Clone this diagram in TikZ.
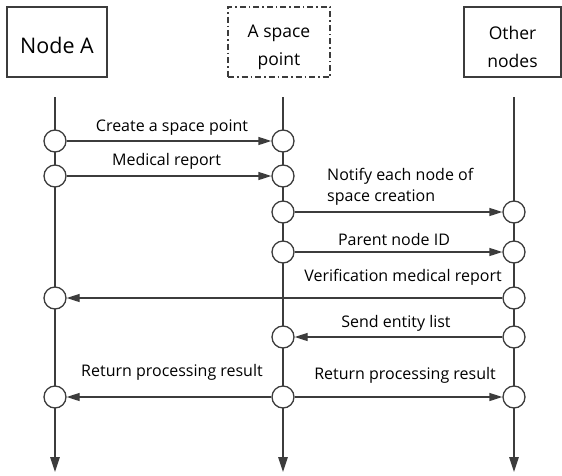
\documentclass[tikz,border=0pt]{standalone}
\usepackage{fontspec}
\setmainfont{Open Sans}
\usetikzlibrary{arrows.meta}
\definecolor{ln}{HTML}{3C3C3C}
\begin{document}
\begin{tikzpicture}[x=1pt,y=-1pt,
  box/.style={draw=ln,line width=1.1pt,minimum width=100pt,minimum height=70pt,inner sep=0pt},
  dbox/.style={box,dash pattern=on 6pt off 3pt on 1.5pt off 3pt},
  boxtxt/.style={inner sep=0pt,align=center,font=\fontsize{17.5}{21}\selectfont},
  lbl/.style={font=\fontsize{16}{21}\selectfont,text=black,inner sep=0pt,anchor=base},
  life/.style={draw=ln,line width=1.3pt,-{Triangle[length=15pt,width=9.5pt]}},
  msg/.style={draw=ln,line width=1.3pt,-{Triangle[length=13pt,width=8pt]}},
  dot/.style={circle,draw=ln,line width=1.3pt,fill=white,minimum size=22pt,inner sep=0pt}]
\useasboundingbox (0,0) rectangle (562,475);
\node[box] (A) at (57,42) {};
\node[dbox,minimum width=102pt] (S) at (279,42) {};
\node[box,minimum width=97pt] (O) at (512.5,42) {};
\node[boxtxt,font=\fontsize{21.5}{26}\selectfont] (Atx) at ([yshift=-3pt]A.center) {Node A};
\node[boxtxt] (Stx) at ([yshift=-5pt]S.center) {A space\\[7pt]point};
\node[boxtxt] (Otx) at ([yshift=-5pt]O.center) {Other\\[7pt]nodes};
\coordinate (At) at (55,97); \coordinate (Ab) at (55,472);
\coordinate (St) at (283,97); \coordinate (Sb) at (283,472);
\coordinate (Ot) at (514,97); \coordinate (Ob) at (514,472);
\draw[life] (At) -- (Ab);
\draw[life] (St) -- (Sb);
\draw[life] (Ot) -- (Ob);
% circles
\node[dot] (a1) at (55,141) {};
\node[dot] (s1) at (283,141) {};
\node[dot] (a2) at (55,176) {};
\node[dot] (s2) at (283,176) {};
\node[dot] (s3) at (283,212) {};
\node[dot] (o3) at (514,212) {};
\node[dot] (s4) at (283,252) {};
\node[dot] (o4) at (514,252) {};
\node[dot] (a5) at (55,298) {};
\node[dot] (o5) at (514,298) {};
\node[dot] (s6) at (283,337) {};
\node[dot] (o6) at (514,337) {};
\node[dot] (a7) at (55,397) {};
\node[dot] (s7) at (283,397) {};
\node[dot] (o7) at (514,397) {};
% messages
\draw[msg] (a1) -- (s1);
\draw[msg] (a2) -- (s2);
\draw[msg] (s3) -- (o3);
\draw[msg] (s4) -- (o4);
\draw[msg] (o5) -- (a5);
\draw[msg] (o6) -- (s6);
\draw[msg] (s7) -- (a7);
\draw[msg] (s7) -- (o7);
% labels
\node[lbl] (l1) at (172,131) {Create a space point};
\node[lbl] (l2) at (166.5,165) {Medical report};
\node[lbl,align=left,anchor=base west] (l3) at (327,201) {Notify each node of\\space creation};
\node[lbl] (l4) at (394,245) {Parent node ID};
\node[lbl] (l5) at (403,281) {Verification medical report};
\node[lbl] (l6) at (396,327) {Send entity list};
\node[lbl] (l7) at (172,376) {Return processing result};
\node[lbl] (l8) at (405,379) {Return processing result};
\end{tikzpicture}
\end{document}
